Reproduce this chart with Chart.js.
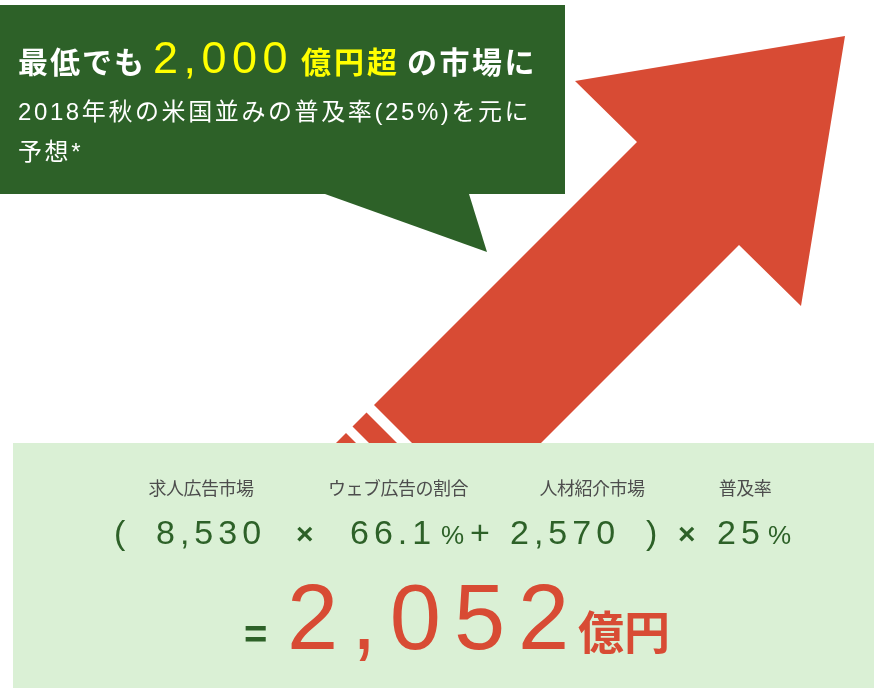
<!DOCTYPE html>
<html>
<head>
<meta charset="utf-8">
<script src="https://cdn.jsdelivr.net/npm/chart.js@4.4.0/dist/chart.umd.min.js"></script>
<style>
  html, body { margin: 0; padding: 0; background: #fff; }
  #wrap { position: relative; width: 874px; height: 688px; overflow: hidden; }
  #board { position: absolute; left: 0; top: 0; }
  .t { position: absolute; white-space: nowrap; line-height: 1; }
</style>
</head>
<body>
<div id="wrap">
  <canvas id="board" width="874" height="688"></canvas>
</div>
<script>
// Chart data
const headlineValue = 2000;
const marketLabels = ["求人広告市場", "ウェブ広告の割合", "人材紹介市場", "普及率"];
const marketValues = [8530, 66.1, 2570, 25];
const valueUnits = ["", "%", "", "%"];
const resultValue = 2052;
const resultUnit = "億円";

// Colours
const DARK_GREEN = "#2d6128";
const LIGHT_GREEN = "#daf0d5";
const ARROW_RED = "#d84b34";
const YELLOW = "#ffff00";
const LABEL_GRAY = "#4d4d4d";

const LATIN = '"Liberation Sans", "Noto Sans CJK JP", sans-serif';
const CJK = '"Noto Sans CJK JP", sans-serif';

// Shape geometry in board units (x right, y down)
const CALLOUT = { left: 0, top: 5, right: 565, bottom: 194, tail: [[325, 194], [487, 252], [469, 194]] };
const PANEL = { left: 13, top: 443, right: 874, bottom: 688 };
const ARROW_HEAD = [[845, 36], [801, 306], [739, 245]];
const ARROW_BARB = [[637, 142], [575, 81]];
const SHAFT = { leftEdge: 779, rightEdge: 984, cut: -31 }; // x+y edges, x-y cut
const STRIPES = [[-46, -74], [-87, -140]];

const fmt = (v) => v.toLocaleString("en-US");

// Intersection of x+y=a and x-y=b
const cross = (a, b) => [(a + b) / 2, (a - b) / 2];

const polygon = (ctx, chart, pts, color) => {
  const sx = chart.scales.x;
  const sy = chart.scales.y;
  ctx.beginPath();
  pts.forEach(([x, y], i) => {
    const px = sx.getPixelForValue(x);
    const py = sy.getPixelForValue(y);
    if (i === 0) ctx.moveTo(px, py);
    else ctx.lineTo(px, py);
  });
  ctx.closePath();
  ctx.fillStyle = color;
  ctx.fill();
};

const rectPts = (r) => [[r.left, r.top], [r.right, r.top], [r.right, r.bottom], [r.left, r.bottom]];

// Plugin that paints the arrow, callout and formula panel
const infographicPlugin = {
  id: "infographic",
  beforeDatasetsDraw(chart) {
    const ctx = chart.ctx;
    ctx.save();
    const shaft = [
      ...ARROW_HEAD,
      cross(SHAFT.rightEdge, SHAFT.cut),
      cross(SHAFT.leftEdge, SHAFT.cut),
      ...ARROW_BARB,
    ];
    polygon(ctx, chart, shaft, ARROW_RED);
    STRIPES.forEach(([a, b]) => {
      polygon(ctx, chart, [cross(SHAFT.leftEdge, a), cross(SHAFT.rightEdge, a), cross(SHAFT.rightEdge, b), cross(SHAFT.leftEdge, b)], ARROW_RED);
    });
    polygon(ctx, chart, rectPts(PANEL), LIGHT_GREEN);
    polygon(ctx, chart, rectPts(CALLOUT), DARK_GREEN);
    polygon(ctx, chart, CALLOUT.tail, DARK_GREEN);
    ctx.restore();
  },
};

new Chart(document.getElementById("board"), {
  type: "scatter",
  data: { datasets: [{ data: [] }] },
  options: {
    responsive: false,
    animation: false,
    layout: { padding: 0 },
    plugins: { legend: { display: false }, tooltip: { enabled: false } },
    scales: {
      x: { type: "linear", min: 0, max: 874, display: false },
      y: { type: "linear", min: 0, max: 688, reverse: true, display: false },
    },
  },
  plugins: [infographicPlugin],
});

// Text placed by baseline
const wrap = document.getElementById("wrap");
const put = (text, x, base, size, opts = {}) => {
  const el = document.createElement("div");
  el.className = "t";
  const cjk = opts.font === "cjk";
  el.textContent = text;
  el.style.fontFamily = cjk ? CJK : LATIN;
  el.style.fontSize = size + "px";
  el.style.top = base - (cjk ? 0.936 : 0.8465) * size + "px";
  el.style.left = x + "px";
  el.style.color = opts.color || "#fff";
  el.style.fontWeight = opts.bold ? "bold" : "normal";
  if (opts.spacing) el.style.letterSpacing = opts.spacing + "px";
  if (opts.center) el.style.transform = "translateX(-50%)";
  wrap.appendChild(el);
  return el;
};

// Callout text
put("最低でも", 18, 73, 30, { font: "cjk", bold: true, spacing: 2 });
put(fmt(headlineValue), 153, 73, 45, { color: YELLOW, spacing: 5.5 });
put("億円超", 301, 73, 30, { font: "cjk", bold: true, color: YELLOW, spacing: 3 });
put("の市場に", 407, 73, 30, { font: "cjk", bold: true, spacing: 2.5 });
put("2018年秋の米国並みの普及率(" + marketValues[3] + "%)を元に", 18, 120, 24, { spacing: 2.6 });
put("予想*", 18, 160, 24, { spacing: 2.6 });

// Formula labels
const labelCenters = [201, 398, 592, 745];
marketLabels.forEach((label, i) => {
  put(label, labelCenters[i], 495, 18, { font: "cjk", color: LABEL_GRAY, center: true, spacing: -0.5 });
});

// Formula line
const FORMULA_BASE = 544;
const numOpts = { color: DARK_GREEN, spacing: 5 };
put("(", 114, FORMULA_BASE, 34, numOpts);
put(fmt(marketValues[0]), 156, FORMULA_BASE, 34, numOpts);
put("×", 296, FORMULA_BASE, 30, { color: DARK_GREEN, bold: true });
put(String(marketValues[1]), 350, FORMULA_BASE, 34, numOpts);
put(valueUnits[1], 441, FORMULA_BASE, 26, { color: DARK_GREEN });
put("+", 470, FORMULA_BASE, 34, { color: DARK_GREEN });
put(fmt(marketValues[2]), 510, FORMULA_BASE, 34, numOpts);
put(")", 646, FORMULA_BASE, 34, numOpts);
put("×", 678, FORMULA_BASE, 30, { color: DARK_GREEN, bold: true });
put(String(marketValues[3]), 717, FORMULA_BASE, 34, numOpts);
put(valueUnits[3], 768, FORMULA_BASE, 26, { color: DARK_GREEN });

// Result
put("=", 244, 648, 40, { color: DARK_GREEN, bold: true });
put(fmt(resultValue), 287, 649, 92, { color: ARROW_RED, spacing: 13 });
put(resultUnit, 578, 649, 46, { font: "cjk", bold: true, color: ARROW_RED });
</script>
</body>
</html>
